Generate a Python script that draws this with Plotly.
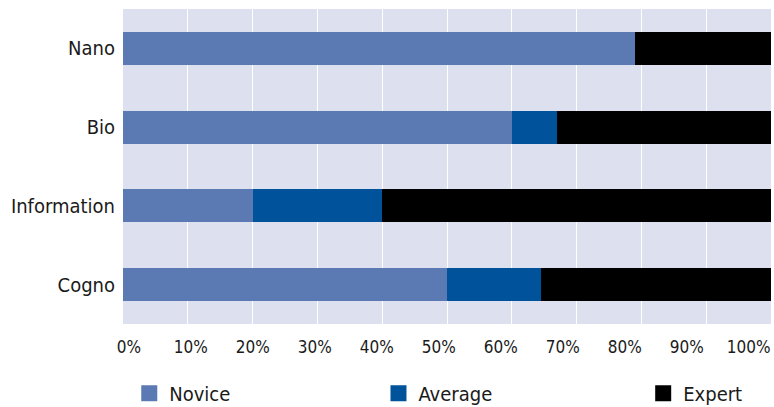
import plotly.graph_objects as go

# Share of respondents per expertise level, by technology field (percent)
fields = ["Nano", "Bio", "Information", "Cogno"]
novice = [79, 60, 20, 50]
average = [0, 7, 20, 14.5]
expert = [21, 33, 60, 35.5]

tick_vals = [0, 10, 20, 30, 40, 50, 60, 70, 80, 90, 100]
tick_text = ["0%", "10%", "20%", "30%", "40%", "50%", "60%", "70%", "80%", "90%", "100%"]

FONT = "DejaVu Sans Condensed, Liberation Sans Narrow, Arial Narrow, sans-serif"
series = [
    ("Novice", novice, "#5B7AB3", "legend", 0.167),
    ("Average", average, "#00529B", "legend2", 0.489),
    ("Expert", expert, "#000000", "legend3", 0.831),
]

fig = go.Figure()
for name, vals, color, leg, _ in series:
    fig.add_trace(go.Bar(
        y=fields, x=vals, name=name, orientation="h",
        marker=dict(color=color, line=dict(width=0)),
        showlegend=False,
    ))
    # legend entry with a larger square swatch
    fig.add_trace(go.Scatter(
        x=[None], y=[None], name=name, mode="markers",
        marker=dict(symbol="square", size=17, color=color),
        legend=leg, showlegend=True, hoverinfo="skip",
    ))

legend_common = dict(
    orientation="h", yref="container", yanchor="middle", y=0.034,
    xref="container", xanchor="left",
    font=dict(family=FONT, size=20, color="#1a1a1a"),
    bgcolor="rgba(0,0,0,0)", itemsizing="trace", itemwidth=30,
)
layout_legends = {}
for name, vals, color, leg, lx in series:
    layout_legends[leg] = dict(legend_common, x=lx)

fig.update_layout(
    width=774, height=407,
    margin=dict(l=123, r=3, t=9, b=83),
    barmode="stack", bargap=0.58,
    plot_bgcolor="#DDE0EF", paper_bgcolor="white",
    font=dict(family=FONT, size=17, color="#1a1a1a"),
    showlegend=True,
    xaxis=dict(
        range=[0, 100], tickvals=tick_vals, showticklabels=False,
        showgrid=True, gridcolor="white", gridwidth=1.2,
        zeroline=False, showline=False, ticks="", automargin=False,
    ),
    xaxis2=dict(
        overlaying="x", anchor="y", side="bottom",
        range=[-0.95, 103.6], tickvals=tick_vals, ticktext=tick_text,
        showgrid=False, zeroline=False, showline=False, ticks="",
        tickfont=dict(family=FONT, size=17, color="#1a1a1a"),
        ticklabelstandoff=11, automargin=False,
    ),
    yaxis=dict(
        categoryorder="array", categoryarray=fields, autorange="reversed",
        showgrid=False, zeroline=False, showline=False, ticks="",
        tickfont=dict(family=FONT, size=20, color="#1a1a1a"),
        ticklabelstandoff=7, automargin=False,
    ),
    **layout_legends,
)

# invisible carrier so the label axis is rendered
fig.add_trace(go.Scatter(x=[0], y=[fields[0]], xaxis="x2", mode="markers",
                         marker=dict(opacity=0), showlegend=False, hoverinfo="skip"))

fig.write_html("out.html")
